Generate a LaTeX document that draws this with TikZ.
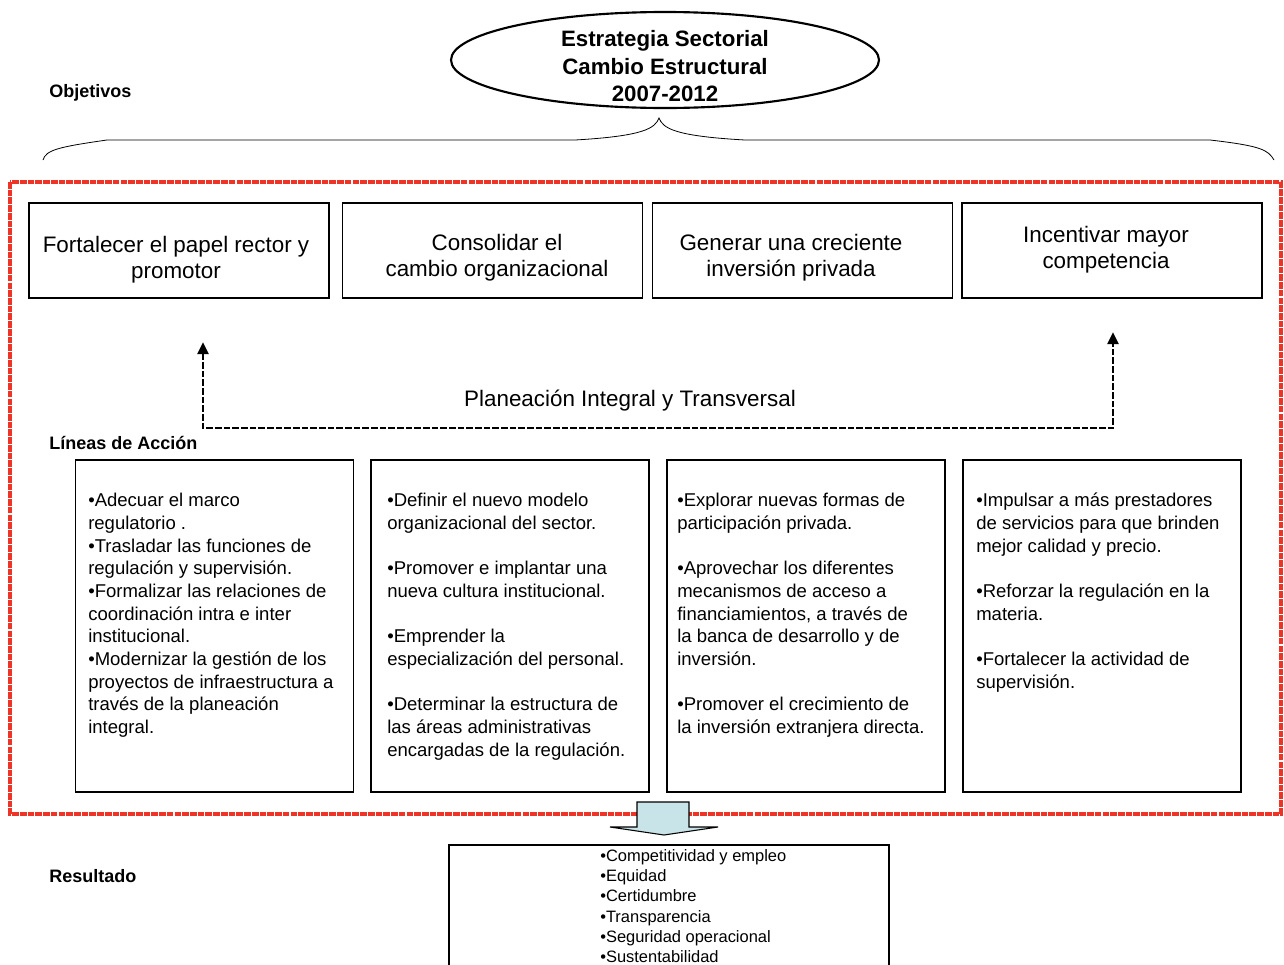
\documentclass[tikz,border=0pt]{standalone}
\usepackage{fontspec}
\setmainfont{Liberation Sans}
\usetikzlibrary{arrows.meta}

\definecolor{framered}{RGB}{238,52,38}
\definecolor{arrowblue}{RGB}{200,228,232}

\begin{document}
\begin{tikzpicture}[x=0.75pt,y=-0.75pt,
  tag/.style={anchor=west,inner sep=0pt,font=\bfseries\fontsize{13.5}{16}\selectfont},
  objbox/.style={draw,line width=0.9pt,minimum width=225pt,minimum height=71.25pt},
  objtext/.style={align=center,font=\fontsize{16.8}{19.5}\selectfont},
  accbox/.style={draw,line width=0.9pt,minimum width=208.5pt,minimum height=249pt},
  acctext/.style={anchor=north west,inner sep=0pt,align=left,font=\fontsize{13.9}{17}\selectfont}]
\clip (0,0) rectangle (1284,964);
\useasboundingbox (0,0) rectangle (1284,964);

\draw[line width=1.6pt] (665,60) ellipse [x radius=214, y radius=48];
\node[align=center,font=\bfseries\fontsize{16.7}{20.6}\selectfont] (estrategia) at (665,66.5)
  {Estrategia Sectorial\\Cambio Estructural\\2007-2012};
\node[tag] (objetivos) at (49,93) {Objetivos};

% llave
\draw[line width=0.6pt] (43,160) .. controls (46,150) and (58,147) .. (107,140) -- (575,140)
  .. controls (645,136) and (655,128) .. (659,118) .. controls (663,128) and (673,136) .. (745,140)
  -- (1210,140) .. controls (1262,146) and (1268,150) .. (1274,160);

\draw[framered,line width=2.8pt,dash pattern=on 5pt off 0.8pt] (10,182) rectangle (1281,814);

\node[objbox] (obj1) at (179,250.5) {};
\node[objbox] (obj2) at (492.5,250.5) {};
\node[objbox] (obj3) at (802.5,250.5) {};
\node[objbox] (obj4) at (1112,250.5) {};
\node[objtext] at (176,260) {Fortalecer el papel rector y\\promotor};
\node[objtext] at (497,258) {Consolidar el\\cambio organizacional};
\node[objtext] at (791,258) {Generar una creciente\\inversión privada};
\node[objtext] at (1106,250) {Incentivar mayor\\competencia};

\coordinate (pa) at (203,342);
\coordinate (pl) at (203,428);
\coordinate (pr) at (1113,428);
\coordinate (pb) at (1113,332);
\draw[line width=2.2pt,dash pattern=on 5pt off 1.5pt,{Triangle[length=9pt,width=8pt]}-{Triangle[length=9pt,width=8pt]}]
  (pa) -- (pl) -- (pr) -- (pb);
\node[objtext] (planeacion) at (630,401) {Planeación Integral y Transversal};

\node[tag] (lineas) at (49,443) {Líneas de Acción};

\node[accbox] (acc1) at (214.5,626) {};
\node[accbox] (acc2) at (510,626) {};
\node[accbox] (acc3) at (806,626) {};
\node[accbox] (acc4) at (1102,626) {};
\node[acctext] at (88,493) {•Adecuar el marco\\regulatorio .\\•Trasladar las funciones de\\regulación y supervisión.\\%
  •Formalizar las relaciones de\\coordinación intra e inter\\institucional.\\%
  •Modernizar la gestión de los\\proyectos de infraestructura a\\través de la planeación\\integral.};
\node[acctext] at (387,493) {•Definir el nuevo modelo\\organizacional del sector.\\[17pt]%
  •Promover e implantar una\\nueva cultura institucional.\\[17pt]%
  •Emprender la\\especialización del personal.\\[17pt]%
  •Determinar la estructura de\\las áreas administrativas\\encargadas de la regulación.};
\node[acctext] at (677,493) {•Explorar nuevas formas de\\participación privada.\\[17pt]%
  •Aprovechar los diferentes\\mecanismos de acceso a\\financiamientos, a través de\\la banca de desarrollo y de\\inversión.\\[17pt]%
  •Promover el crecimiento de\\la inversión extranjera directa.};
\node[acctext] at (976,493) {•Impulsar a más prestadores\\de servicios para que brinden\\mejor calidad y precio.\\[17pt]%
  •Reforzar la regulación en la\\materia.\\[17pt]%
  •Fortalecer la actividad de\\supervisión.};

% flecha hacia el resultado
\draw[line width=0.8pt,fill=arrowblue] (637,802) -- (689,802) -- (689,827) -- (718,827) -- (664,835)
  -- (610,827) -- (637,827) -- cycle;

\node[tag] (resultado) at (49,876) {Resultado};
\node[draw,line width=0.9pt,minimum width=330pt,minimum height=97.5pt] (result) at (669,910) {};
\node[acctext,font=\fontsize{12.35}{15.2}\selectfont] at (600,849) {•Competitividad y empleo\\•Equidad\\•Certidumbre\\•Transparencia\\•Seguridad operacional\\•Sustentabilidad};
\end{tikzpicture}
\end{document}
